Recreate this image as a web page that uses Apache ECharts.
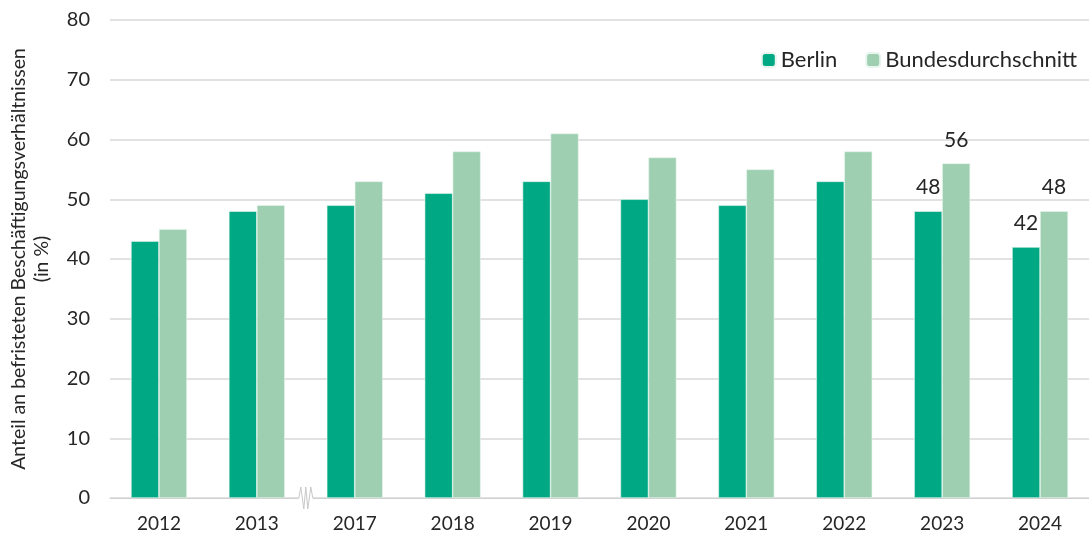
<!DOCTYPE html>
<html>
<head>
<meta charset="utf-8">
<script src="https://cdn.jsdelivr.net/npm/echarts@6/dist/echarts.min.js"></script>
<style>
  html, body { margin: 0; padding: 0; background: #fff; }
  #chart { width: 1089px; height: 540px; }
</style>
</head>
<body>
<div id="chart"></div>
<script>
// Jahre und Werte (Anteil befristeter Beschäftigungsverhältnisse in %)
var years = ["2012", "2013", "2017", "2018", "2019", "2020", "2021", "2022", "2023", "2024"];
var berlin = [43, 48, 49, 51, 53, 50, 49, 53, 48, 42];
var bund = [45, 49, 53, 58, 61, 57, 55, 58, 56, 48];
// nur diese Jahre bekommen Datenbeschriftungen
var labelledYears = ["2023", "2024"];

var chart = echarts.init(document.getElementById("chart"));
var font = "Lato, 'Noto Sans', sans-serif";
var textColor = "#262626";

function withLabels(values) {
  return values.map(function (v, i) {
    var show = labelledYears.indexOf(years[i]) >= 0;
    return { value: v, label: { show: show } };
  });
}

var option = {
  animation: false,
  textStyle: { fontFamily: font },
  grid: { left: 110, right: 0, top: 20, bottom: 42, outerBoundsMode: "none", containLabel: false },
  legend: {
    right: 7,
    top: 44,
    itemWidth: 14,
    itemHeight: 14,
    itemGap: 28,
    textStyle: { fontSize: 22, color: textColor, fontFamily: font },
    data: ["Berlin", "Bundesdurchschnitt"]
  },
  xAxis: {
    type: "category",
    data: years,
    axisTick: { show: false },
    axisLine: { lineStyle: { color: "#d0d0d0", width: 1 } },
    axisLabel: { fontSize: 19, color: textColor, margin: 16, fontFamily: font }
  },
  yAxis: {
    type: "value",
    min: 0,
    max: 80,
    interval: 10,
    name: "Anteil an befristeten Beschäftigungsverhältnissen\n(in %)",
    nameLocation: "middle",
    nameGap: 57,
    nameRotate: 90,
    nameMoveOverlap: false,
    nameTextStyle: { fontSize: 19.5, color: textColor, lineHeight: 23, fontFamily: font },
    axisLine: { show: false },
    axisTick: { show: false },
    axisLabel: { fontSize: 20, color: textColor, margin: 20, fontFamily: font },
    splitLine: { lineStyle: { color: "#d9d9d9", width: 1.5 } }
  },
  series: [
    {
      name: "Berlin",
      type: "bar",
      data: withLabels(berlin),
      barWidth: 28,
      barGap: "0%",
      itemStyle: { color: "#00a984", borderColor: "#e8f5ef", borderWidth: 0.6 },
      label: { position: "top", distance: 13, fontSize: 21, color: textColor, fontFamily: font }
    },
    {
      name: "Bundesdurchschnitt",
      type: "bar",
      data: withLabels(bund),
      barWidth: 28,
      barGap: "0%",
      itemStyle: { color: "#9dcfb0", borderColor: "#e8f5ef", borderWidth: 0.6 },
      label: { position: "top", distance: 13, fontSize: 21, color: textColor, fontFamily: font }
    }
  ]
};

chart.setOption(option);

// Achsenbruch-Zeichen zwischen 2013 und 2017
var p13 = chart.convertToPixel({ xAxisIndex: 0, yAxisIndex: 0 }, ["2013", 0]);
var p17 = chart.convertToPixel({ xAxisIndex: 0, yAxisIndex: 0 }, ["2017", 0]);
var bx = (p13[0] + p17[0]) / 2;
var by = p13[1];
chart.setOption({
  graphic: [
    {
      type: "rect",
      shape: { x: bx - 7, y: by - 3, width: 14, height: 6 },
      style: { fill: "#fff" },
      z: 100
    },
    {
      type: "polyline",
      shape: {
        points: [
          [bx - 7, by], [bx - 5, by - 11], [bx - 2, by + 11], [bx, by - 11],
          [bx + 2, by + 11], [bx + 5, by - 11], [bx + 7, by]
        ]
      },
      style: { stroke: "#c8c8c8", lineWidth: 1, fill: null },
      z: 101
    }
  ]
});
</script>
</body>
</html>
